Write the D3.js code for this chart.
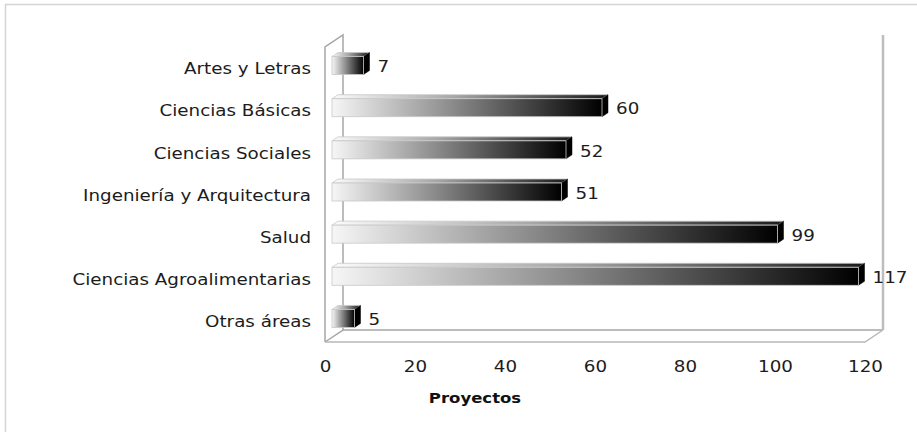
<!DOCTYPE html>
<html><head><meta charset="utf-8">
<script src="https://cdn.jsdelivr.net/npm/d3@7"></script>
<style>body{margin:0;background:#fff}svg{display:block}</style>
</head><body>
<svg id="c" width="917" height="432"></svg>
<script>
const categories = ["Artes y Letras","Ciencias Básicas","Ciencias Sociales","Ingeniería y Arquitectura","Salud","Ciencias Agroalimentarias","Otras áreas"];
const values = [7,60,52,51,99,117,5];
const ticks = [0,20,40,60,80,100,120];
const axisTitle = "Proyectos";

const svg = d3.select("#c");
const FONT = "'DejaVu Sans', Verdana, sans-serif";
const SX = 1.22; // horizontal stretch of the text, as in the reference

svg.append("rect").attr("x",5.5).attr("y",4.5).attr("width",930).attr("height",450)
  .attr("fill","#fff").attr("stroke","#d4d4d4").attr("stroke-width",1.5);

const x = d3.scaleLinear().domain([0,120]).range([325,865]);
const y = d3.scaleBand().domain(categories).range([47,342]);
const DX = 18, DY = -12;
const fx = 7, bx = 13, fy = -4.5, by = -8.5;
const faceH = 18;

const defs = svg.append("defs");
const g1 = defs.append("linearGradient").attr("id","gFront");
g1.append("stop").attr("offset","0%").attr("stop-color","#f6f6f6");
g1.append("stop").attr("offset","45%").attr("stop-color","#8a8a8a");
g1.append("stop").attr("offset","100%").attr("stop-color","#000");
const g2 = defs.append("linearGradient").attr("id","gTop");
g2.append("stop").attr("offset","0%").attr("stop-color","#fbfbfb");
g2.append("stop").attr("offset","45%").attr("stop-color","#a5a5a5");
g2.append("stop").attr("offset","100%").attr("stop-color","#1a1a1a");

function stext(sel, px, py, anchor, sx){
  return sel.append("text").attr("transform",`translate(${px},${py}) scale(${sx||SX},1)`)
    .attr("dy","0.35em").attr("text-anchor",anchor).attr("font-family",FONT)
    .attr("font-size",15).attr("fill","#1c1c1c");
}

const frame = svg.append("g").attr("fill","none").attr("stroke","#a6a6a6").attr("stroke-width",1.5);
const x0 = x(0), x1 = x(120), yt = y.range()[0], yb = y.range()[1];
frame.append("path").attr("d",`M${x0},${yb}V${yt}L${x0+DX},${yt+DY}V${yb+DY}L${x0},${yb}`);
frame.append("path").attr("d",`M${x0+DX},${yb+DY}H${x1+DX}`);
frame.append("path").attr("d",`M${x0},${yb}H${x1}L${x1+DX},${yb+DY}`).attr("stroke","#b8b8b8");
frame.append("path").attr("d",`M${x1+DX},${yb+DY}V${yt+DY}`).attr("stroke","#bdbdbd").attr("stroke-width",2.5);

const bars = svg.append("g").selectAll("g").data(categories).join("g");
bars.each(function(c,i){
  const g = d3.select(this);
  const cy = y(c) + y.bandwidth()/2;
  const top = cy + fy - faceH/2 + 2, bot = top + faceH;
  const xl = x(0), xr = x(values[i]);
  g.append("path").attr("d",`M${xl+fx},${top}L${xl+bx},${top+(by-fy)}H${xr+bx}L${xr+fx},${top}Z`)
    .attr("fill","url(#gTop)").attr("stroke","#c8c8c8").attr("stroke-width",0.8);
  g.append("path").attr("d",`M${xr+fx},${top}L${xr+bx},${top+(by-fy)}V${bot+(by-fy)}L${xr+fx},${bot}Z`)
    .attr("fill","#000").attr("stroke","#000").attr("stroke-width",0.5);
  g.append("rect").attr("x",xl+fx).attr("y",top).attr("width",xr-xl).attr("height",faceH)
    .attr("fill","url(#gFront)").attr("stroke","#c8c8c8").attr("stroke-width",0.8);
  stext(g, xr+bx+8, cy-1, "start").text(values[i]);
});

const cl = svg.append("g");
categories.forEach(c => stext(cl, 311, y(c)+y.bandwidth()/2+1, "end").text(c));

const ax = svg.append("g").attr("transform",`translate(0,${yb})`)
  .call(d3.axisBottom(x).tickValues(ticks).tickSize(0).tickPadding(19));
ax.select(".domain").remove();
ax.selectAll(".tick text").attr("font-family",FONT).attr("font-size",15).attr("fill","#1c1c1c")
  .attr("transform",`scale(${SX},1)`);

stext(svg, 475, 398, "middle", 1.18).attr("font-size",14).attr("font-weight","bold").attr("fill","#111").text(axisTitle);
</script>
</body></html>
